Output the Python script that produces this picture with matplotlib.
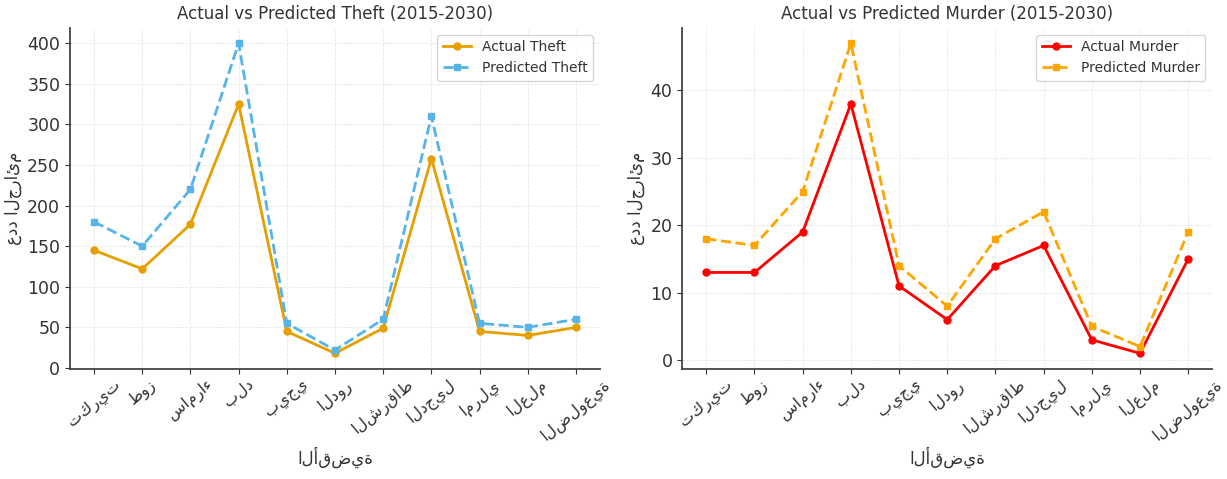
import matplotlib
matplotlib.use("Agg")
import matplotlib.pyplot as plt
import numpy as np

# الأقضية
districts = ["تكريت", "طوز", "سامراء", "بلد", "بيجي", "الدور",
             "الشرقاط", "الدجيل", "امرلي", "العلم", "الضلوعية"]

theft_actual = [145, 122, 177, 325, 45, 18, 49, 258, 45, 40, 50]
theft_pred = [180, 150, 220, 400, 55, 22, 60, 310, 55, 50, 60]

murder_actual = [13, 13, 19, 38, 11, 6, 14, 17, 3, 1, 15]
murder_pred = [18, 17, 25, 47, 14, 8, 18, 22, 5, 2, 19]

plt.rcParams['font.family'] = ['DejaVu Sans']
plt.rcParams['text.color'] = '#333333'
plt.rcParams['axes.labelcolor'] = '#333333'
plt.rcParams['xtick.color'] = '#333333'
plt.rcParams['ytick.color'] = '#333333'

fig, (ax1, ax2) = plt.subplots(1, 2, figsize=(12.27, 4.79), dpi=100)
x = np.arange(len(districts))

def style(ax):
    ax.grid(True, linestyle='--', linewidth=0.6, color='#e6e6e6')
    ax.spines['top'].set_visible(False)
    ax.spines['right'].set_visible(False)
    ax.spines['left'].set_linewidth(1.3)
    ax.spines['bottom'].set_linewidth(1.3)
    ax.spines['left'].set_color('#444444')
    ax.spines['bottom'].set_color('#444444')
    ax.set_xticks(x)
    ax.set_xticklabels(districts, rotation=40, fontsize=11.5)
    ax.tick_params(axis='y', labelsize=12.5)
    ax.tick_params(axis='x', pad=2)
    ax.set_xlabel("الأقضية", fontsize=12, labelpad=2)
    ax.set_ylabel("عدد الجرائم", fontsize=12)

ax1.plot(x, theft_actual, color='#E69F00', marker='o', linewidth=2, markersize=5, label='Actual Theft')
ax1.plot(x, theft_pred, color='#56B4E9', marker='s', linestyle='--', linewidth=2, markersize=5, label='Predicted Theft')
ax1.set_title("Actual vs Predicted Theft (2015-2030)", fontsize=12)
ax1.set_yticks([0, 50, 100, 150, 200, 250, 300, 350, 400])
style(ax1)
ax1.legend(loc='upper right', fontsize=10)

ax2.plot(x, murder_actual, color='red', marker='o', linewidth=2, markersize=5, label='Actual Murder')
ax2.plot(x, murder_pred, color='orange', marker='s', linestyle='--', linewidth=2, markersize=5, label='Predicted Murder')
ax2.set_title("Actual vs Predicted Murder (2015-2030)", fontsize=12)
ax2.set_yticks([0, 10, 20, 30, 40])
style(ax2)
ax2.legend(loc='upper right', fontsize=10)

fig.subplots_adjust(left=0.057, right=0.988, bottom=0.23, top=0.942, wspace=0.155)
plt.savefig('out.png')
